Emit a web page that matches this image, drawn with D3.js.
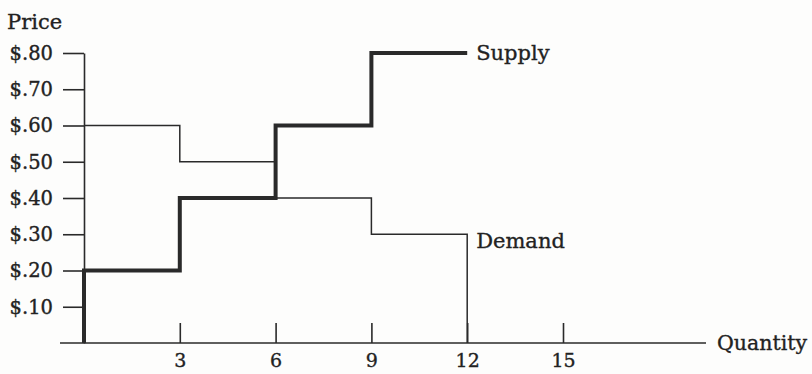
<!DOCTYPE html>
<html>
<head>
<meta charset="utf-8">
<script src="https://cdn.jsdelivr.net/npm/d3@7"></script>
<style>
  body { margin: 0; background: #fdfdfc; }
  svg { display: block; }
  text { font-family: "DejaVu Serif", "Liberation Serif", serif; fill: #222; stroke: #222; stroke-width: 0.35px; }
</style>
</head>
<body>
<svg id="chart" width="812" height="374"></svg>
<script>
const priceTicks = [0.1, 0.2, 0.3, 0.4, 0.5, 0.6, 0.7, 0.8];
const quantityTicks = [3, 6, 9, 12, 15];

// step curves: [quantity, price]
const supply = [[0, 0], [0, 0.2], [3, 0.2], [3, 0.4], [6, 0.4], [6, 0.6], [9, 0.6], [9, 0.8], [12, 0.8]];
const demand = [[0, 0.6], [3, 0.6], [3, 0.5], [6, 0.5], [6, 0.4], [9, 0.4], [9, 0.3], [12, 0.3], [12, 0]];

const ink = "#2a2a2a";
const svg = d3.select("#chart");

const x = d3.scaleLinear().domain([0, 15]).range([84, 563]);
const y = d3.scaleLinear().domain([0, 0.8]).range([343, 53]);

// x axis: long baseline, upward ticks
svg.append("line")
  .attr("x1", 60).attr("x2", 706)
  .attr("y1", y(0)).attr("y2", y(0))
  .attr("stroke", ink).attr("stroke-width", 1.6);

const xAxisG = svg.append("g")
  .attr("transform", `translate(0,${y(0)})`)
  .call(d3.axisBottom(x).tickValues(quantityTicks).tickSize(-20).tickPadding(11).tickFormat(d3.format("d")));
xAxisG.select(".domain").remove();
xAxisG.selectAll(".tick line").attr("stroke", ink).attr("stroke-width", 1.6);
xAxisG.selectAll(".tick text")
  .attr("font-size", 19)
  .attr("font-family", "DejaVu Serif, serif")
  .attr("fill", "#222");

const yAxisG = svg.append("g")
  .attr("transform", `translate(${x(0)},0)`)
  .call(d3.axisLeft(y).tickValues(priceTicks).tickSize(21).tickSizeOuter(0).tickPadding(10)
    .tickFormat(d => "$" + d3.format(".2f")(d).replace(/^0/, "")));
yAxisG.select(".domain").attr("stroke", ink).attr("stroke-width", 1.6);
yAxisG.selectAll(".tick line").attr("stroke", ink).attr("stroke-width", 1.6);
yAxisG.selectAll(".tick text")
  .attr("font-size", 19.5)
  .attr("font-family", "DejaVu Serif, serif")
  .attr("fill", "#222");

const line = d3.line().x(d => x(d[0])).y(d => y(d[1]));

svg.append("path")
  .datum(demand)
  .attr("d", line)
  .attr("fill", "none")
  .attr("stroke", ink)
  .attr("stroke-width", 1.5);

svg.append("path")
  .datum(supply)
  .attr("d", line)
  .attr("fill", "none")
  .attr("stroke", ink)
  .attr("stroke-width", 4);

svg.append("text").attr("x", 7).attr("y", 29).attr("font-size", 21).text("Price");
svg.append("text").attr("x", x(12) + 9).attr("y", y(0.8)).attr("dy", "0.35em").attr("font-size", 21).text("Supply");
svg.append("text").attr("x", x(12) + 9).attr("y", y(0.3) + 6).attr("dy", "0.35em").attr("font-size", 21).text("Demand");
svg.append("text").attr("x", 717).attr("y", y(0)).attr("dy", "0.35em").attr("font-size", 20.5).text("Quantity");
</script>
</body>
</html>
